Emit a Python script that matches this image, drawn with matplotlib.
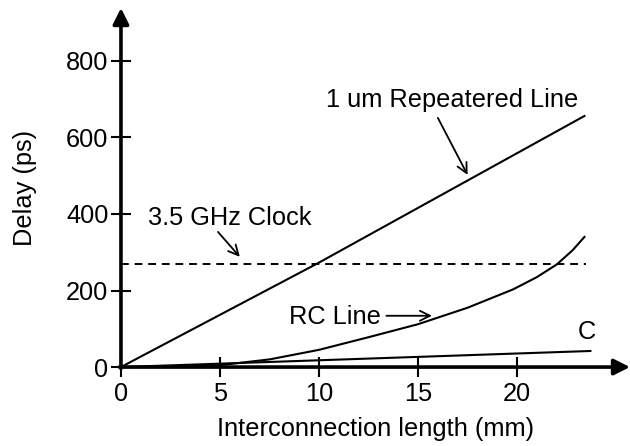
import numpy as np
import matplotlib.pyplot as plt

plt.rcParams["font.family"] = ["Liberation Sans", "DejaVu Sans"]

# data (length in mm, delay in ps)
rep_x = [0, 10, 23.4]
rep_y = [0, 273, 656]

rc_x = [0, 3, 5, 7.5, 10, 12.5, 15, 17.5, 19.8, 21, 22, 22.8, 23.4]
rc_y = [0, 1, 5, 20, 45, 78, 112, 155, 203, 235, 268, 305, 340]

c_x = [0, 23.7]
c_y = [0, 42]

clock_x = [0, 23.5]
clock_y = [270, 270]

xticks = [0, 5, 10, 15, 20]
yticks = [0, 200, 400, 600, 800]

FS = 18.3

fig = plt.figure(figsize=(6.3, 4.46), dpi=100)
ax = fig.add_axes([0.192, 0.177, 0.808, 0.805])
ax.set_xlim(0, 25.7)
ax.set_ylim(0, 938)

ax.plot(rep_x, rep_y, color="black", lw=1.5, clip_on=False)
ax.plot(rc_x, rc_y, color="black", lw=1.5, clip_on=False)
ax.plot(c_x, c_y, color="black", lw=1.5, clip_on=False)
ax.plot(clock_x, clock_y, color="black", lw=1.4, ls=(0, (4, 3)))

for s in ax.spines.values():
    s.set_visible(False)

# axes drawn as arrows
arr = dict(arrowstyle="-|>", lw=2.6, color="black", mutation_scale=24,
           shrinkA=0, shrinkB=0)
ax.annotate("", xy=(1.0, 0), xytext=(-0.003, 0), xycoords="axes fraction",
            arrowprops=arr, annotation_clip=False)
ax.annotate("", xy=(0, 1.0), xytext=(0, -0.004), xycoords="axes fraction",
            arrowprops=arr, annotation_clip=False)

ax.set_xticks(xticks)
ax.set_yticks(yticks)
ax.tick_params(direction="inout", length=14, width=1.5, labelsize=FS,
               pad=2)
ax.tick_params(axis="x", pad=4)

ax.set_xlabel("Interconnection length (mm)", fontsize=FS, labelpad=8)
ax.set_ylabel("Delay (ps)", fontsize=FS, labelpad=21)

small = dict(arrowstyle="->", lw=1.3, color="black", mutation_scale=18,
             shrinkA=0, shrinkB=0)
ax.text(16.7, 698, "1 um Repeatered Line", fontsize=FS, ha="center",
        va="center")
ax.annotate("", xy=(17.5, 502), xytext=(16.0, 651), arrowprops=small)

ax.text(5.5, 390, "3.5 GHz Clock", fontsize=FS, ha="center", va="center")
ax.annotate("", xy=(6.0, 288), xytext=(4.9, 353), arrowprops=small)

ax.text(10.8, 131, "RC Line", fontsize=FS, ha="center", va="center")
ax.annotate("", xy=(15.7, 134), xytext=(13.4, 134), arrowprops=small)

ax.text(23.5, 92, "C", fontsize=FS, ha="center", va="center")

fig.savefig("out.png", dpi=100)
